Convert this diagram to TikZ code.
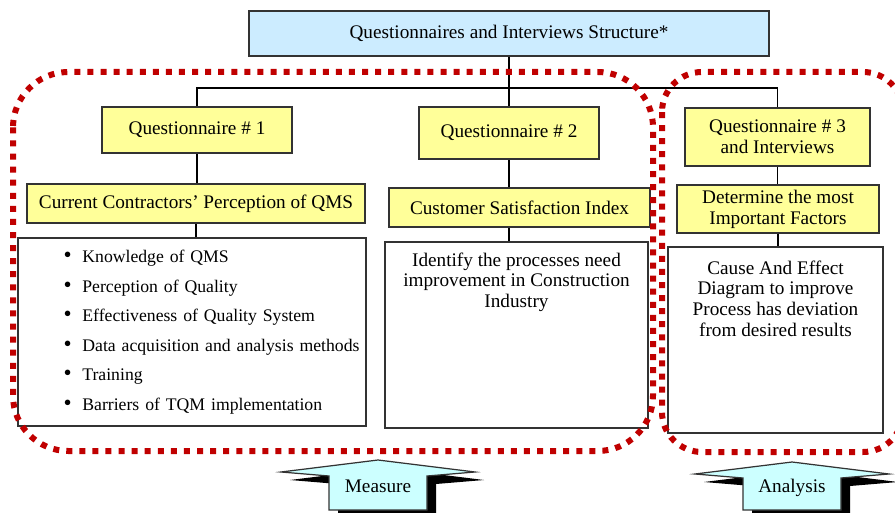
\documentclass[tikz,border=0pt]{standalone}
\usepackage{fontspec}
\setmainfont{Liberation Serif}
\usetikzlibrary{calc}
\usepackage{xcolor}
\definecolor{headblue}{RGB}{204,236,255}
\definecolor{qyellow}{RGB}{255,255,153}
\definecolor{zonered}{RGB}{192,0,0}
\definecolor{arrowcyan}{RGB}{204,255,255}
\newcommand{\pxu}{0.65pt}
\newcommand{\itm}[1]{\hspace*{26.5pt}{\fontsize{15}{15}\selectfont\textbullet}\hspace{7pt}\mbox{#1}}
\tikzset{
 box/.style={draw=black!80, line width=1.3pt, inner sep=3pt, align=center},
 sz/.style 2 args={minimum width=#1*\pxu, minimum height=#2*\pxu},
 headbox/.style={box, fill=headblue},
 qbox/.style={box, fill=qyellow},
 bodybox/.style={box, fill=white},
 link/.style={black, line width=1pt},
 zone/.style={draw=zonered, line width=3.9pt, dash pattern=on 3.9pt off 4.6pt},
}

\begin{document}
\begin{tikzpicture}[x=\pxu, y=-\pxu, font=\fontsize{12.5}{13.5}\selectfont]
\useasboundingbox (0,0) rectangle (895,513);
\node[headbox, sz={520}{45}] (top) at (509,33.5) {Questionnaires and Interviews Structure*};
\node[qbox, sz={190}{46}] (q1) at (197,130) {Questionnaire \# 1};
\node[qbox, sz={180}{52}] (q2) at (509,133) {Questionnaire \# 2};
\node[qbox, sz={185}{58}] (q3) at (777.5,137) {Questionnaire \# 3\\and Interviews};
\node[qbox, sz={338}{39}] (s1) at (196,203.5) {Current Contractors' Perception of QMS};
\node[qbox, sz={261}{39}] (s2) at (519.5,207.5) {Customer Satisfaction Index};
\node[qbox, sz={202}{42}] (s3) at (778,209) {Determine the most\\Important Factors};
\node[bodybox, sz={348}{188}, text width=220pt, align=left,
 font=\fontsize{11.5}{19.2}\selectfont] (b1) at (192,332)
 {\itm{Knowledge of QMS}\\ \itm{Perception of Quality}\\ \itm{Effectiveness of Quality System}\\
  \itm{Data acquisition and analysis methods}\\ \itm{Training}\\ \itm{Barriers of TQM implementation}};
\node[bodybox, sz={263}{186},
 label={[anchor=north, yshift=-4pt, align=center]north:Identify the processes need\\improvement in Construction\\Industry}]
 (b2) at (516.5,335) {};
\node[bodybox, sz={215}{186},
 label={[anchor=north, yshift=-6pt, align=center]north:Cause And Effect\\Diagram to improve\\Process has deviation\\from desired results}]
 (b3) at (775.5,340) {};

\coordinate (bus) at (509,88);
\draw[link] (top) -- (q2);
\draw[link] (q1.north) |- (bus) -| (q3.north);
\draw[link] (q1.south) -- (q1.south |- s1.north);
\draw[link] (s1.south) -- (s1.south |- b1.north);
\draw[link] (q2.south) -- (q2.south |- s2.north);
\draw[link] (s2.south -| q2.south) -- (b2.north -| q2.south);
\draw[link] (q3.south) -- (q3.south |- s3.north);
\draw[link] (s3.south) -- (s3.south |- b3.north);

\draw[zone, rounded corners=36pt] (13,72) rectangle (653,451);
\draw[zone, rounded corners=26pt] (662,72) rectangle (903,452);

\foreach \cx/\ay/\name/\txt in {378/460/measure/Measure, 792/462/analysis/Analysis} {
 \fill[black, shift={(9,8)}] (\cx,\ay) -- (\cx-97,\ay+12) -- (\cx-49,\ay+16) -- (\cx-49,520)
  -- (\cx+49,520) -- (\cx+49,\ay+16) -- (\cx+97,\ay+12) -- cycle;
 \filldraw[draw=black!80, fill=arrowcyan, line width=0.8pt] (\cx,\ay) -- (\cx-97,\ay+12) -- (\cx-49,\ay+16)
  -- (\cx-49,510) -- (\cx+49,510) -- (\cx+49,\ay+16) -- (\cx+97,\ay+12) -- cycle;
 \node (\name) at (\cx,\ay+26) {\txt};
}
\end{tikzpicture}
\end{document}
